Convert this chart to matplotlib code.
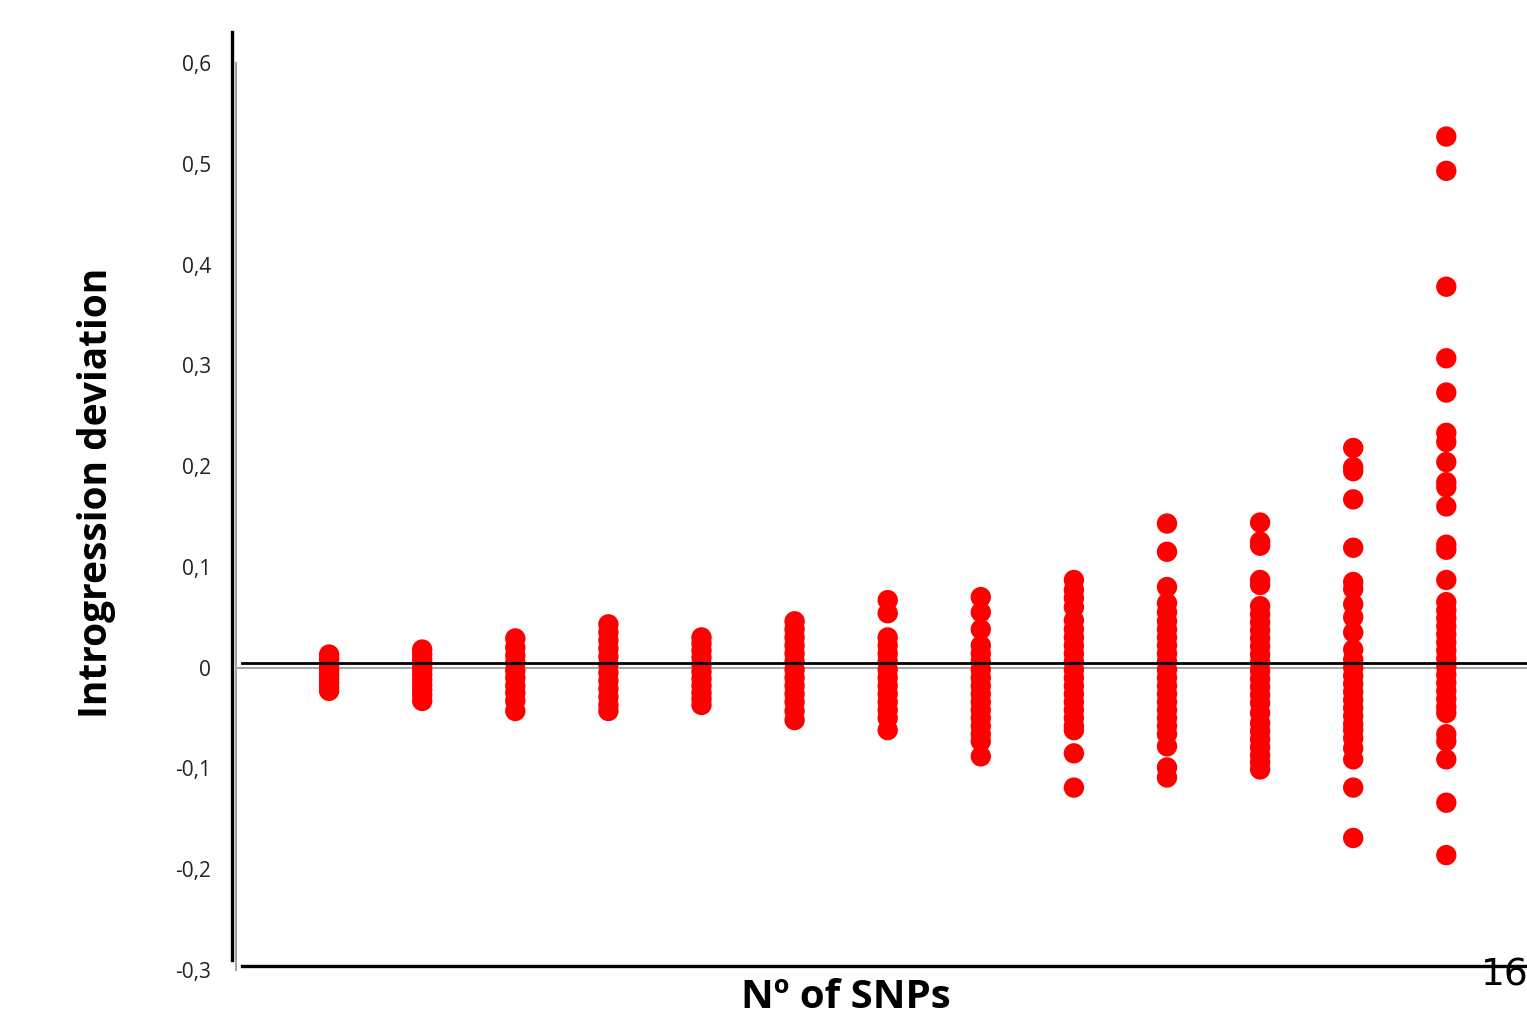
import matplotlib
matplotlib.use('Agg')
import matplotlib.pyplot as plt
from matplotlib.lines import Line2D

# introgression deviation per locus, grouped by number of SNPs
snp_groups = [1, 2, 3, 4, 5, 6, 7, 8, 9, 10, 11, 12, 13]
deviations = [
    [0.013, 0.009, 0.005, 0.001, -0.003, -0.007, -0.011, -0.015, -0.019, -0.023],
    [0.018, 0.013, 0.008, 0.003, -0.002, -0.007, -0.012, -0.017, -0.022, -0.027, -0.033],
    [0.029, 0.020, 0.012, 0.005, -0.003, -0.010, -0.018, -0.025, -0.033, -0.043],
    [0.043, 0.035, 0.027, 0.019, 0.011, 0.003, -0.005, -0.013, -0.021, -0.029, -0.037, -0.043],
    [0.030, 0.024, 0.017, 0.010, 0.003, -0.004, -0.011, -0.018, -0.025, -0.031, -0.037],
    [0.046, 0.038, 0.030, 0.022, 0.014, 0.006, -0.002, -0.010, -0.018, -0.026, -0.034, -0.043, -0.052],
    [0.067, 0.054, 0.030, 0.022, 0.014, 0.006, -0.002, -0.010, -0.018, -0.026, -0.034, -0.042, -0.050, -0.062],
    [0.070, 0.055, 0.038, 0.022, 0.014, 0.006, -0.002, -0.010, -0.018, -0.026, -0.034, -0.042, -0.050,
     -0.058, -0.066, -0.073, -0.088],
    [0.087, 0.077, 0.069, 0.060, 0.047, 0.038, 0.030, 0.022, 0.014, 0.006, -0.002, -0.010, -0.018, -0.026,
     -0.034, -0.042, -0.050, -0.058, -0.062, -0.085, -0.119],
    [0.143, 0.115, 0.080, 0.064, 0.055, 0.046, 0.038, 0.030, 0.022, 0.014, 0.006, -0.002, -0.010, -0.018,
     -0.026, -0.034, -0.042, -0.050, -0.058, -0.066, -0.078, -0.099, -0.109],
    [0.144, 0.125, 0.121, 0.087, 0.082, 0.061, 0.053, 0.045, 0.037, 0.029, 0.021, 0.013, 0.005, -0.003,
     -0.011, -0.019, -0.027, -0.035, -0.045, -0.055, -0.063, -0.071, -0.079, -0.087, -0.094, -0.101],
    [0.218, 0.199, 0.195, 0.167, 0.119, 0.085, 0.078, 0.063, 0.050, 0.035, 0.018, 0.008, 0.0, -0.008,
     -0.016, -0.024, -0.032, -0.040, -0.048, -0.056, -0.062, -0.070, -0.080, -0.091, -0.119, -0.169],
    [0.527, 0.493, 0.378, 0.307, 0.273, 0.233, 0.224, 0.204, 0.184, 0.179, 0.160, 0.122, 0.117, 0.087,
     0.065, 0.057, 0.049, 0.041, 0.033, 0.025, 0.017, 0.009, 0.001, -0.007, -0.015, -0.023, -0.031,
     -0.039, -0.045, -0.066, -0.073, -0.091, -0.134, -0.186],
]
yticks = [-0.3, -0.2, -0.1, 0.0, 0.1, 0.2, 0.3, 0.4, 0.5, 0.6]
ytick_labels = ['-0,3', '-0,2', '-0,1', '0', '0,1', '0,2', '0,3', '0,4', '0,5', '0,6']

W, H = 1527, 1017
fig = plt.figure(figsize=(W / 100, H / 100), dpi=100)
ax = fig.add_axes([236 / W, 1 - 970 / H, 1 - 236 / W, (970 - 63) / H])

for x, ys in zip(snp_groups, deviations):
    ax.scatter([x] * len(ys), ys, s=215, color='#ff0000', edgecolors='none', zorder=3)

ax.axhline(0, color='#a6a6a6', lw=1.5, zorder=1)
ax.set_xlim(0, (W - 236) / 93.1)
ax.set_ylim(-0.3, 0.6)
ax.set_xticks([])
ax.set_yticks(yticks)
ax.set_yticklabels(ytick_labels, fontsize=15, family='Open Sans', color='#222222')
ax.tick_params(axis='y', length=0, pad=18)
for side in ['top', 'right', 'bottom']:
    ax.spines[side].set_visible(False)
ax.spines['left'].set_color('#a6a6a6')
ax.spines['left'].set_linewidth(1.5)

# heavy black guide lines laid over the plot
fig.add_artist(Line2D([232 / W, 232 / W], [1 - 32 / H, 1 - 960 / H], color='black', lw=2.4,
                      transform=fig.transFigure))
fig.add_artist(Line2D([242 / W, 1.0], [1 - 663 / H, 1 - 663 / H], color='black', lw=2.0,
                      transform=fig.transFigure))
fig.add_artist(Line2D([242 / W, 1.0], [1 - 966 / H, 1 - 966 / H], color='black', lw=2.4,
                      transform=fig.transFigure))

fig.text(97 / W, 1 - 493 / H, 'Introgression deviation', rotation=90, ha='center', va='center',
         fontsize=28, fontweight='bold', family='Open Sans')
fig.text(846 / W, 1 - 978 / H, 'Nº of SNPs', ha='center', va='top',
         fontsize=29, fontweight='bold', family='Open Sans')
fig.text(1505 / W, 1 - 975 / H, '16', ha='center', va='center', fontsize=27, family='DejaVu Sans')

fig.savefig('out.png', dpi=100)
